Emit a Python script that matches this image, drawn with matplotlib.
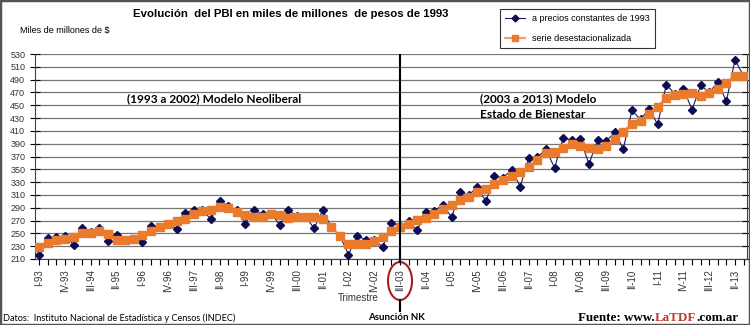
import matplotlib
matplotlib.use('Agg')
import matplotlib.pyplot as plt
from matplotlib.lines import Line2D
from matplotlib.patches import Ellipse, Rectangle
from matplotlib.transforms import blended_transform_factory

# trimestres I-93 .. III-13
roman = ['I', 'II', 'III', 'IV']
quarters = ['%s-%02d' % (roman[i % 4], (93 + i // 4) % 100) for i in range(83)]

# PBI a precios constantes de 1993 (miles de millones de $)
pbi_constante = [216, 243, 244, 246, 232, 258, 252, 258, 238, 248,
                 240, 242, 236, 261, 260, 265, 257, 282, 287, 286,
                 272, 301, 293, 286, 265, 287, 280, 281, 263, 286,
                 277, 276, 258, 286, 260, 246, 217, 246, 240, 239,
                 229, 266, 261, 269, 255, 284, 285, 295, 275, 314,
                 310, 322, 300, 339, 337, 349, 323, 368, 369, 381,
                 352, 399, 396, 397, 358, 396, 394, 408, 382, 442,
                 428, 444, 420, 482, 468, 476, 443, 481, 470, 486,
                 456, 521, 496]

# serie desestacionalizada
pbi_desest = [228, 235, 239, 241, 245, 250, 251, 254, 249, 240,
              239, 242, 247, 253, 260, 264, 270, 273, 280, 285,
              286, 291, 290, 283, 279, 276, 276, 280, 279, 274,
              275, 275, 275, 273, 260, 246, 233, 234, 234, 238,
              245, 254, 260, 265, 271, 274, 281, 288, 295, 302,
              307, 314, 320, 327, 334, 340, 346, 354, 365, 375,
              377, 383, 390, 387, 384, 382, 387, 398, 409, 421,
              426, 437, 448, 462, 466, 467, 469, 465, 469, 476,
              485, 496, 495]

nk_index = quarters.index('III-03')

plt.rcParams['font.family'] = ['Liberation Sans', 'DejaVu Sans']

fig = plt.figure(figsize=(7.5, 3.25), dpi=100)
fig.patch.set_facecolor('white')
ax = fig.add_axes([35 / 750., 1 - 259 / 325., 712 / 750., 205 / 325.])

x = list(range(len(quarters)))

ax.plot(x, pbi_constante, color='#1a1a66', lw=0.8, marker='D', markersize=4.2,
        markerfacecolor='#0d0d55', markeredgecolor='#0d0d55', zorder=3)
ax.plot(x, pbi_desest, color='#f2a066', lw=1.6, marker='s', markersize=6.3,
        markerfacecolor='#ea7a2c', markeredgecolor='#ea7a2c', zorder=4)

ax.set_xlim(-0.5, 82.4)
ax.set_ylim(210, 530)
ax.set_yticks(range(210, 531, 20))
ax.yaxis.grid(True, color='#777777', lw=0.9)
ax.set_axisbelow(True)
ax.tick_params(axis='y', direction='inout', length=7, labelsize=6.5,
               labelcolor='#333333', right=True, width=0.8)

ax.set_xticks(x[::3])
ax.set_xticklabels(quarters[::3], rotation=90)
ax.set_xticks(x, minor=True)
ax.tick_params(axis='x', which='both', direction='out', length=4, width=0.8,
               labelsize=7, labelcolor='#333333')
ax.spines['top'].set_visible(False)
for s in ['left', 'right', 'bottom']:
    ax.spines[s].set_color('#444444')
    ax.spines[s].set_linewidth(0.8)

# linea vertical asuncion NK
trans = blended_transform_factory(ax.transData, fig.transFigure)
ax.axvline(nk_index, color='black', lw=1.5, zorder=5)
fig.add_artist(Line2D([nk_index, nk_index], [1 - 259 / 325., 1 - 262 / 325.],
                      transform=trans, color='black', lw=1.5))
fig.add_artist(Line2D([nk_index, nk_index], [1 - 300 / 325., 1 - 311 / 325.],
                      transform=trans, color='black', lw=1.5))
fig.add_artist(Ellipse((nk_index, 1 - 281 / 325.), 24 / 8.59, 38 / 325.,
                       transform=trans, fill=False, edgecolor='#a32020', lw=1.5))

ax.text(20.4, 461, '(1993 a 2002) Modelo Neoliberal', ha='center', va='center',
        fontsize=8.6, fontweight='bold', family='Lato')
ax.text(51.3, 448, '(2003 a 2013) Modelo\nEstado de Bienestar', ha='left',
        va='center', fontsize=8.6, fontweight='bold', family='Lato',
        linespacing=1.45)

fig.text(291 / 750., 1 - 14 / 325., 'Evolución  del PBI en miles de millones  de pesos de 1993',
         ha='center', va='center', fontsize=8.2, fontweight='bold')
fig.text(20 / 750., 1 - 31 / 325., 'Miles de millones de $', ha='left', va='center',
         fontsize=6.5)
fig.text(358 / 750., 1 - 298 / 325., 'Trimestre', ha='center', va='center',
         fontsize=7, color='#333333')
fig.text(3 / 750., 1 - 318 / 325., 'Datos:  Instituto Nacional de Estadística y Censos (INDEC)',
         ha='left', va='center', fontsize=6.6, family='Lato')
fig.text(396 / 750., 1 - 318 / 325., 'Asunción NK', ha='center', va='center',
         fontsize=7, fontweight='bold', family='Lato')

# fuente con LaTDF en rojo
fig.canvas.draw()
renderer = fig.canvas.get_renderer()
xpos = 578 / 750.
for part, col in [('Fuente: www.', 'black'), ('LaTDF', '#c0392b'), ('.com.ar', 'black')]:
    t = fig.text(xpos, 1 - 318 / 325., part, ha='left', va='center', fontsize=9.4,
                 fontweight='bold', family='Liberation Serif', color=col)
    bb = t.get_window_extent(renderer=renderer)
    xpos += bb.width / fig.bbox.width

handles = [Line2D([], [], color='#1a1a66', lw=0.8, marker='D', markersize=3.5,
                  markerfacecolor='#0d0d55', markeredgecolor='#0d0d55'),
           Line2D([], [], color='#f2a066', lw=1.6, marker='s', markersize=4,
                  markerfacecolor='#ea7a2c', markeredgecolor='#ea7a2c')]
leg = fig.legend(handles, ['a precios constantes de 1993', 'serie desestacionalizada'],
                 loc='upper left', bbox_to_anchor=(495 / 750., 1 - 4 / 325.),
                 fontsize=6.5, frameon=True, fancybox=False, labelspacing=1.2,
                 handlelength=2.2, borderpad=0.6)
leg.get_frame().set_edgecolor('black')
leg.get_frame().set_linewidth(0.8)

fig.add_artist(Rectangle((0, 0), 1, 1, transform=fig.transFigure, fill=False,
                         edgecolor='#555555', lw=2.5))

fig.savefig('out.png', dpi=100)
